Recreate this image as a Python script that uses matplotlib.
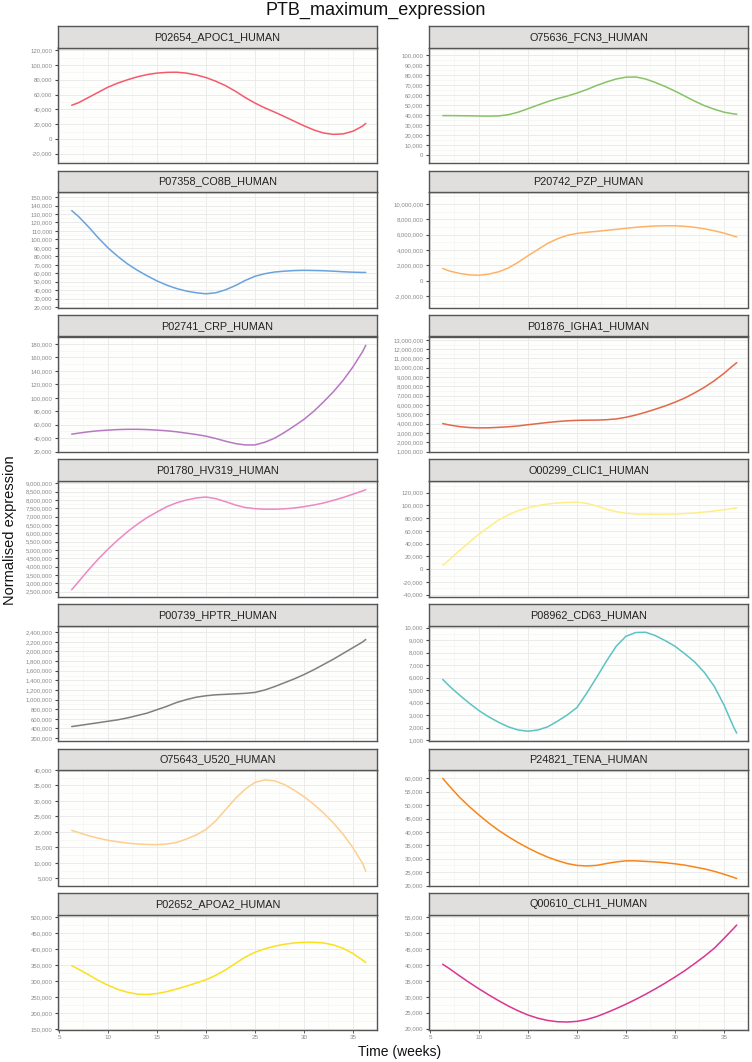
import matplotlib
matplotlib.use("Agg")
import matplotlib.pyplot as plt
from matplotlib.ticker import MultipleLocator, FuncFormatter

plt.rcParams['font.family'] = ['Liberation Sans', 'DejaVu Sans']

# ---- data (values in thousands) ----
weeks = [6.3, 7, 8, 9, 10, 11, 12, 13, 14, 15, 16, 17, 18, 19, 20, 21, 22, 23, 24,
         25, 26, 27, 28, 29, 30, 31, 32, 33, 34, 35, 36, 36.3]

proteins = ["P02654_APOC1_HUMAN", "O75636_FCN3_HUMAN",
            "P07358_CO8B_HUMAN", "P20742_PZP_HUMAN",
            "P02741_CRP_HUMAN", "P01876_IGHA1_HUMAN",
            "P01780_HV319_HUMAN", "O00299_CLIC1_HUMAN",
            "P00739_HPTR_HUMAN", "P08962_CD63_HUMAN",
            "O75643_U520_HUMAN", "P24821_TENA_HUMAN",
            "P02652_APOA2_HUMAN", "Q00610_CLH1_HUMAN"]

apoc1 = [45.5, 49, 56, 63, 70, 75.5, 80, 84, 87, 89, 90, 90.2, 89, 86.5, 83, 78, 72, 64.5, 56,
         48.5, 42, 36.3, 30.3, 24, 17.8, 12.2, 8, 6.2, 6.8, 10.5, 17.5, 21]
fcn3 = [39.6, 39.6, 39.5, 39.4, 39.2, 39.1, 39.3, 40.5, 43, 46.5, 50, 53.5, 56.5, 59, 62, 65.5,
        69.5, 73, 76, 77.8, 78, 76, 72.5, 68.5, 64, 59, 54, 49.5, 46, 43, 41.3, 41]
co8b = [134, 127, 115, 102, 90, 80, 71, 63.5, 57, 51, 46, 42, 39, 37, 35.8, 37, 40.5, 45.5, 51.5,
        56.5, 59.5, 61.5, 62.5, 63.2, 63.5, 63.3, 63, 62.5, 61.8, 61.3, 61, 61]
pzp = [1580, 1250, 950, 750, 700, 850, 1150, 1650, 2400, 3250, 4050, 4850, 5450, 5900, 6150, 6300,
       6420, 6550, 6680, 6820, 6950, 7050, 7120, 7150, 7150, 7080, 6950, 6750, 6500, 6200, 5800, 5700]
crp = [46, 47.5, 49.5, 51, 52, 52.8, 53.2, 53.2, 52.8, 52, 51, 49.5, 47.5, 45.5, 43, 39.5, 35.5,
       32, 30, 30, 34, 40, 48.5, 58, 68, 80, 94, 109, 126, 146, 169, 178]
igha1 = [4000, 3850, 3680, 3580, 3540, 3550, 3600, 3660, 3750, 3880, 4000, 4120, 4220, 4300, 4350,
         4370, 4380, 4420, 4500, 4680, 4920, 5220, 5550, 5900, 6300, 6750, 7300, 7900, 8600, 9400,
         10300, 10550]
hv319 = [2620, 3100, 3800, 4450, 5050, 5600, 6100, 6550, 6950, 7280, 7600, 7830, 8000, 8120, 8180,
         8080, 7900, 7700, 7550, 7480, 7450, 7450, 7470, 7520, 7600, 7700, 7820, 7980, 8150, 8350,
         8550, 8620]
clic1 = [6, 15, 29, 42, 55, 66, 77, 85, 91.5, 96, 99.5, 102, 103.5, 104.5, 105, 103, 99, 94, 90,
         87.5, 86.5, 86, 86, 86, 86.3, 87, 88, 89.5, 91, 93, 95.5, 96]
hptr = [440, 460, 490, 520, 550, 580, 620, 670, 720, 790, 860, 940, 1000, 1050, 1080, 1100, 1110,
        1120, 1130, 1150, 1200, 1270, 1350, 1430, 1520, 1620, 1730, 1840, 1960, 2080, 2200, 2250]
cd63 = [5.85, 5.3, 4.6, 3.95, 3.35, 2.85, 2.42, 2.05, 1.8, 1.7, 1.8, 2.05, 2.5, 3.0, 3.6, 4.75,
        6.0, 7.3, 8.5, 9.3, 9.6, 9.62, 9.35, 8.95, 8.5, 7.9, 7.25, 6.4, 5.3, 3.8, 2.0, 1.55]
u520 = [20.5, 19.8, 18.8, 18.0, 17.3, 16.8, 16.4, 16.1, 15.95, 15.9, 16.1, 16.6, 17.7, 19.0, 20.8,
        23.6, 27.2, 30.8, 33.8, 36.0, 36.8, 36.5, 35.3, 33.5, 31.4, 28.9, 26.1, 22.9, 19.2, 14.9,
        9.7, 7.3]
tena = [60, 57, 53, 49.5, 46.3, 43.3, 40.6, 38.2, 36, 34, 32.2, 30.6, 29.3, 28.2, 27.5, 27.3, 27.5,
        28.2, 28.8, 29.2, 29.2, 29, 28.8, 28.5, 28.1, 27.6, 26.9, 26.2, 25.3, 24.2, 23, 22.6]
apoa2 = [348, 337, 320, 302, 287, 274, 265, 259, 258, 261, 267, 275, 284, 294, 304, 318, 335, 355,
         375, 390, 401, 409, 415, 419, 421, 421, 419, 413, 402, 386, 365, 358]
clh1 = [40.2, 38.8, 36.6, 34.5, 32.5, 30.6, 28.8, 27.1, 25.6, 24.3, 23.3, 22.6, 22.2, 22.1, 22.3,
        22.9, 23.8, 25, 26.3, 27.7, 29.2, 30.8, 32.5, 34.3, 36.2, 38.2, 40.4, 42.7, 45.2, 48.3,
        51.5, 52.5]

series = [apoc1, fcn3, co8b, pzp, crp, igha1, hv319, clic1, hptr, cd63, u520, tena, apoa2, clh1]
unit = 1000

colors = ["#F4596A", "#86C365", "#69A3DD", "#FDB367", "#B778C3", "#E3684A", "#EC88C5",
          "#FFEE88", "#7F7F7F", "#5CC3C3", "#FDCF8F", "#F7861A", "#F9E11E", "#D9368F"]

ylims = [(-32500, 123600), (-7500, 107300), (19600, 156000), (-3500000, 11550000),
         (19500, 191000), (950000, 13360000), (2210000, 9140000), (-42700, 138000),
         (140000, 2540000), (920, 10160), (2700, 40000), (20000, 63100),
         (147000, 508000), (19600, 55800)]
ysteps = [20000, 10000, 10000, 2000000, 20000, 1000000, 500000, 20000,
          200000, 1000, 5000, 5000, 50000, 5000]

# ---- layout ----
W, H = 752, 1062
fig = plt.figure(figsize=(W / 100, H / 100), dpi=100)
fig.patch.set_facecolor("white")


def fmt_func(v, p):
    if abs(v) < 0.5:
        return "0"
    return "{:,.0f}".format(v)


fmt = FuncFormatter(fmt_func)

for i, name in enumerate(proteins):
    row, col = i // 2, i % 2
    x0 = 58 if col == 0 else 429
    w = 319
    strip_top = 26 + row * 144.5
    strip_h = 21.5
    plot_top = strip_top + strip_h
    plot_h = 115.5

    ax = fig.add_axes([x0 / W, 1 - (plot_top + plot_h) / H, w / W, plot_h / H])
    ax.set_facecolor("#FEFEFC")
    yvals = [v * unit for v in series[i]]
    ax.plot(weeks, yvals, color=colors[i], lw=1.1, solid_capstyle="round",
            solid_joinstyle="round")
    ax.set_xlim(4.9, 37.45)
    ax.set_ylim(*ylims[i])
    ax.xaxis.set_major_locator(MultipleLocator(5))
    ax.xaxis.set_minor_locator(MultipleLocator(2.5))
    ax.yaxis.set_major_locator(MultipleLocator(ysteps[i]))
    ax.yaxis.set_minor_locator(MultipleLocator(ysteps[i] / 2))
    ax.yaxis.set_major_formatter(fmt)
    ax.grid(which="major", color="#EBEBEB", lw=0.7)
    ax.grid(which="minor", color="#F4F4F4", lw=0.5)
    ax.set_axisbelow(True)
    for s in ax.spines.values():
        s.set_color("#555555")
        s.set_linewidth(1.0)
    ax.tick_params(axis="y", which="major", length=2.5, width=0.8, color="#444444",
                   labelsize=4.3, labelcolor="#888888", pad=1.5)
    ax.tick_params(axis="y", which="minor", length=0)
    if row == 6:
        ax.tick_params(axis="x", which="major", length=2.0, width=0.6, color="#444444",
                       labelsize=4.5, labelcolor="#888888", pad=1.5)
    else:
        ax.tick_params(axis="x", which="major", length=0, labelbottom=False)
    ax.tick_params(axis="x", which="minor", length=0)

    sax = fig.add_axes([x0 / W, 1 - (strip_top + strip_h) / H, w / W, strip_h / H])
    sax.set_facecolor("#E0DFDD")
    sax.set_xticks([])
    sax.set_yticks([])
    for s in sax.spines.values():
        s.set_color("#555555")
        s.set_linewidth(1.0)
    sax.text(0.5, 0.5, name, ha="center", va="center", fontsize=7.8, color="#222222",
             transform=sax.transAxes)

fig.text(0.5, 1 - 10 / H, "PTB_maximum_expression", ha="center", va="center",
         fontsize=13, color="#111111")
fig.text(10 / W, 1 - 530 / H, "Normalised expression", ha="center", va="center",
         rotation=90, fontsize=10.5, color="#111111")
fig.text(400 / W, 1 - 1052 / H, "Time (weeks)", ha="center", va="center",
         fontsize=10, color="#111111")

fig.savefig("out.png", dpi=100, facecolor="white")
